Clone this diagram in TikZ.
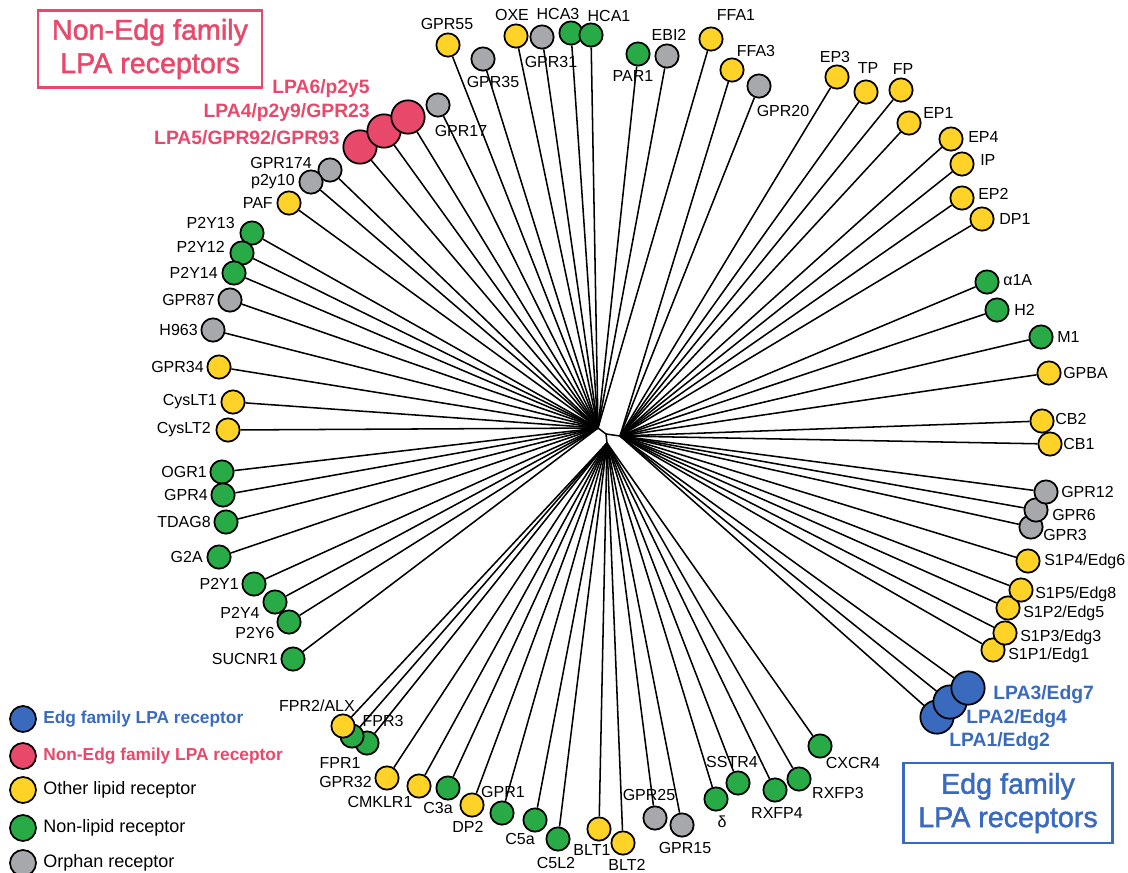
\documentclass[tikz,border=0pt]{standalone}
\usepackage{fontspec}
\setmainfont{Liberation Sans}
\newfontfamily\famfont[FakeBold=1.6]{Liberation Sans}
\definecolor{edgblue}{RGB}{58,106,190}
\definecolor{nonedg}{RGB}{232,72,106}
\definecolor{lipid}{RGB}{255,210,40}
\definecolor{nonlipid}{RGB}{40,170,70}
\definecolor{orphan}{RGB}{166,168,171}
\begin{document}
\begin{tikzpicture}[
        x=0.75pt, y=-0.75pt,
        leaf/.style={draw, circle, line width=1.3pt, minimum size=17.5pt, inner sep=0pt},
        lip/.style={leaf, fill=lipid},
        nlip/.style={leaf, fill=nonlipid},
        orph/.style={leaf, fill=orphan},
        lpaN/.style={leaf, fill=nonedg, minimum size=25pt},
        lpaE/.style={leaf, fill=edgblue, minimum size=25pt},
        lbl/.style={inner sep=0pt, font=\fontsize{12}{14}\selectfont},
        lblN/.style={inner sep=0pt, text=nonedg, font=\fontsize{14.5}{16}\selectfont\bfseries},
        lblE/.style={inner sep=0pt, text=edgblue, font=\fontsize{14.5}{16}\selectfont\bfseries},
        branch/.style={line width=1.15pt},
        famN/.style={draw=nonedg, line width=2.2pt, text=nonedg, align=center, inner sep=6pt,
            font=\famfont\fontsize{21.5}{25}\selectfont},
        famE/.style={draw=edgblue, line width=2.2pt, text=edgblue, align=center, inner sep=6pt,
            font=\famfont\fontsize{21.5}{25}\selectfont},
        key/.style={draw, circle, line width=1.3pt, minimum size=19.5pt, inner sep=0pt},
        keytxt/.style={inner sep=0pt, anchor=west, font=\fontsize{13.5}{16}\selectfont},
    ]
    \useasboundingbox (0,0) rectangle (1128,872);

    % inner hubs of the tree
    \coordinate (hubL) at (598,428);
    \coordinate (hubM) at (606,434);
    \coordinate (hubR) at (620,436);
    \coordinate (hubB) at (607,443);

    % upper left and top
    \node[lip] (gpr55) at (448,45) {};
    \node[orph] (gpr35) at (483,59) {};
    \node[lip] (oxe) at (516,36) {};
    \node[orph] (gpr31) at (542,37) {};
    \node[nlip] (hca3) at (571,33) {};
    \node[nlip] (hca1) at (591,35) {};
    \node[nlip] (par1) at (638,54) {};
    \node[orph] (ebi2) at (667,56) {};
    \node[lip] (ffa1) at (711,39) {};
    \node[orph] (gpr17) at (438,105) {};
    \node[lpaN] (lpa5) at (360,147) {};
    \node[lpaN] (lpa4) at (384,131) {};
    \node[lpaN] (lpa6) at (408,117) {};
    \node[orph] (gpr174) at (330,170) {};
    \node[orph] (p2y10) at (311,182) {};
    \node[lip] (paf) at (289,203) {};
    \node[nlip] (p2y13) at (252,233) {};
    \node[nlip] (p2y12) at (242,253) {};
    \node[nlip] (p2y14) at (234,273) {};
    \node[orph] (gpr87) at (230,300) {};
    \node[orph] (h963) at (213,330) {};
    \node[lip] (gpr34) at (219,367) {};
    \node[lip] (cyslt1) at (233,402) {};
    \node[lip] (cyslt2) at (228,430) {};
    \node[nlip] (ogr1) at (222,472) {};
    \node[nlip] (gpr4) at (223,495) {};
    \node[nlip] (tdag8) at (226,522) {};
    \node[nlip] (g2a) at (219,557) {};
    \node[nlip] (p2y1) at (254,584) {};
    \node[nlip] (p2y4) at (275,602) {};
    \node[nlip] (p2y6) at (289,622) {};
    \node[nlip] (sucnr1) at (293,659) {};

    % bottom
    \node[nlip] (fpr3) at (367,743) {};
    \node[nlip] (fpr1) at (352,736) {};
    \node[lip] (fpr2) at (343,726) {};
    \node[lip] (gpr32) at (387,778) {};
    \node[lip] (cmklr1) at (419,786) {};
    \node[nlip] (c3a) at (448,788) {};
    \node[lip] (dp2) at (472,805) {};
    \node[nlip] (gpr1) at (502,813) {};
    \node[nlip] (c5a) at (535,820) {};
    \node[nlip] (c5l2) at (558,839) {};
    \node[lip] (blt1) at (599,829) {};
    \node[lip] (blt2) at (623,843) {};
    \node[orph] (gpr25) at (655,818) {};
    \node[orph] (gpr15) at (682,825) {};
    \node[nlip] (delta) at (716,799) {};
    \node[nlip] (sstr4) at (738,783) {};
    \node[nlip] (rxfp4) at (775,790) {};
    \node[nlip] (rxfp3) at (799,779) {};
    \node[nlip] (cxcr4) at (820,746) {};

    % upper right and right
    \node[lip] (ffa3) at (732,70) {};
    \node[orph] (gpr20) at (759,86) {};
    \node[lip] (ep3) at (837,77) {};
    \node[lip] (tp) at (866,92) {};
    \node[lip] (fp) at (901,90) {};
    \node[lip] (ep1) at (909,123) {};
    \node[lip] (ep4) at (951,139) {};
    \node[lip] (ip) at (962,164) {};
    \node[lip] (ep2) at (962,198) {};
    \node[lip] (dp1) at (982,219) {};
    \node[nlip] (a1a) at (987,282) {};
    \node[nlip] (h2) at (997,310) {};
    \node[nlip] (m1) at (1041,337) {};
    \node[lip] (gpba) at (1049,373) {};
    \node[lip] (cb2) at (1042,421) {};
    \node[lip] (cb1) at (1050,444) {};
    \node[orph] (gpr3) at (1031,527) {};
    \node[orph] (gpr6) at (1036,510) {};
    \node[orph] (gpr12) at (1046,492) {};
    \node[lip] (s1p4) at (1028,561) {};
    \node[lip] (s1p1) at (993,650) {};
    \node[lip] (s1p3) at (1005,633) {};
    \node[lip] (s1p2) at (1008,608) {};
    \node[lip] (s1p5) at (1021,590) {};
    \node[lpaE] (lpa1) at (937,717) {};
    \node[lpaE] (lpa2) at (950,702) {};
    \node[lpaE] (lpa3) at (968,688) {};

    % branches
    \begin{scope}[on background layer/.try]
    \draw[branch] (hubL) -- (hubM) -- (hubB);
    \draw[branch] (hubM) -- (hubR);
    \foreach \leaf in {gpr55,gpr35,oxe,gpr31,hca3,hca1,par1,ebi2,ffa1,gpr17,lpa5,lpa4,lpa6,
        gpr174,p2y10,paf,p2y13,p2y12,p2y14,gpr87,h963,gpr34,cyslt1,cyslt2,ogr1,gpr4,tdag8,
        g2a,p2y1,p2y4,p2y6,sucnr1}
        \draw[branch] (hubL) -- (\leaf);
    \foreach \leaf in {fpr3,fpr1,fpr2,gpr32,cmklr1,c3a,dp2,gpr1,c5a,c5l2,blt1,blt2,gpr25,
        gpr15,delta,sstr4,rxfp4,rxfp3,cxcr4}
        \draw[branch] (hubB) -- (\leaf);
    \foreach \leaf in {ffa3,gpr20,ep3,tp,fp,ep1,ep4,ip,ep2,dp1,a1a,h2,m1,gpba,cb2,cb1,
        gpr3,gpr6,gpr12,s1p4,s1p1,s1p3,s1p2,s1p5,lpa1,lpa2,lpa3}
        \draw[branch] (hubR) -- (\leaf);
    \end{scope}

    % leaf names
    \node[lbl] (t-gpr55) at (447,24) {GPR55};
    \node[lbl] (t-gpr35) at (493,82) {GPR35};
    \node[lbl] (t-oxe) at (512,15) {OXE};
    \node[lbl] (t-gpr31) at (551,62) {GPR31};
    \node[lbl] (t-hca3) at (558,14) {HCA3};
    \node[lbl] (t-hca1) at (609,16) {HCA1};
    \node[lbl] (t-par1) at (633,76) {PAR1};
    \node[lbl] (t-ebi2) at (669,35) {EBI2};
    \node[lbl] (t-ffa1) at (736,15) {FFA1};
    \node[lbl] (t-ffa3) at (756,51) {FFA3};
    \node[lbl] (t-gpr20) at (783,111) {GPR20};
    \node[lbl] (t-gpr17) at (461,131) {GPR17};
    \node[lblN, anchor=east] (t-lpa6) at (370,88) {LPA6/p2y5};
    \node[lblN, anchor=east] (t-lpa4) at (370,112) {LPA4/p2y9/GPR23};
    \node[lblN, anchor=east] (t-lpa5) at (340,138) {LPA5/GPR92/GPR93};
    \node[lbl, anchor=east] (t-gpr174) at (312,163) {GPR174};
    \node[lbl, anchor=east] (t-p2y10) at (295,182) {p2y10};
    \node[lbl, anchor=east] (t-paf) at (273,203) {PAF};
    \node[lbl, anchor=east] (t-p2y13) at (235,223) {P2Y13};
    \node[lbl, anchor=east] (t-p2y12) at (225,247) {P2Y12};
    \node[lbl, anchor=east] (t-p2y14) at (218,273) {P2Y14};
    \node[lbl, anchor=east] (t-gpr87) at (215,300) {GPR87};
    \node[lbl, anchor=east] (t-h963) at (198,330) {H963};
    \node[lbl, anchor=east] (t-gpr34) at (204,367) {GPR34};
    \node[lbl, anchor=east] (t-cyslt1) at (217,402) {CysLT1};
    \node[lbl, anchor=east] (t-cyslt2) at (211,430) {CysLT2};
    \node[lbl, anchor=east] (t-ogr1) at (207,472) {OGR1};
    \node[lbl, anchor=east] (t-gpr4) at (208,495) {GPR4};
    \node[lbl, anchor=east] (t-tdag8) at (211,522) {TDAG8};
    \node[lbl, anchor=east] (t-g2a) at (203,557) {G2A};
    \node[lbl, anchor=east] (t-p2y1) at (239,584) {P2Y1};
    \node[lbl] (t-p2y4) at (240,613) {P2Y4};
    \node[lbl] (t-p2y6) at (255,633) {P2Y6};
    \node[lbl, anchor=east] (t-sucnr1) at (278,659) {SUCNR1};
    \node[lbl] (t-fpr2) at (317,706) {FPR2/ALX};
    \node[lbl] (t-fpr3) at (383,721) {FPR3};
    \node[lbl] (t-fpr1) at (340,763) {FPR1};
    \node[lbl, anchor=east] (t-gpr32) at (372,782) {GPR32};
    \node[lbl] (t-cmklr1) at (380,802) {CMKLR1};
    \node[lbl] (t-c3a) at (438,808) {C3a};
    \node[lbl] (t-dp2) at (468,827) {DP2};
    \node[lbl] (t-gpr1) at (503,792) {GPR1};
    \node[lbl] (t-c5a) at (520,839) {C5a};
    \node[lbl] (t-c5l2) at (556,863) {C5L2};
    \node[lbl] (t-blt1) at (592,850) {BLT1};
    \node[lbl] (t-blt2) at (627,865) {BLT2};
    \node[lbl] (t-gpr25) at (649,795) {GPR25};
    \node[lbl] (t-gpr15) at (685,848) {GPR15};
    \node[lbl] (t-delta) at (722,822) {δ};
    \node[lbl] (t-sstr4) at (732,762) {SSTR4};
    \node[lbl] (t-rxfp4) at (777,813) {RXFP4};
    \node[lbl] (t-rxfp3) at (838,793) {RXFP3};
    \node[lbl] (t-cxcr4) at (853,763) {CXCR4};
    \node[lbl] (t-ep3) at (835,57) {EP3};
    \node[lbl] (t-tp) at (868,68) {TP};
    \node[lbl] (t-fp) at (903,69) {FP};
    \node[lbl, anchor=west] (t-ep1) at (923,113) {EP1};
    \node[lbl, anchor=west] (t-ep4) at (968,137) {EP4};
    \node[lbl, anchor=west] (t-ip) at (980,160) {IP};
    \node[lbl, anchor=west] (t-ep2) at (978,194) {EP2};
    \node[lbl, anchor=west] (t-dp1) at (999,219) {DP1};
    \node[lbl, anchor=west] (t-a1a) at (1003,280) {α1A};
    \node[lbl, anchor=west] (t-h2) at (1014,310) {H2};
    \node[lbl, anchor=west] (t-m1) at (1057,337) {M1};
    \node[lbl, anchor=west] (t-gpba) at (1063,373) {GPBA};
    \node[lbl, anchor=west] (t-cb2) at (1055,419) {CB2};
    \node[lbl, anchor=west] (t-cb1) at (1063,444) {CB1};
    \node[lbl, anchor=west] (t-gpr12) at (1061,492) {GPR12};
    \node[lbl, anchor=west] (t-gpr6) at (1052,515) {GPR6};
    \node[lbl, anchor=west] (t-gpr3) at (1043,535) {GPR3};
    \node[lbl, anchor=west] (t-s1p4) at (1044,561) {S1P4/Edg6};
    \node[lbl, anchor=west] (t-s1p5) at (1035,594) {S1P5/Edg8};
    \node[lbl, anchor=west] (t-s1p2) at (1023,613) {S1P2/Edg5};
    \node[lbl, anchor=west] (t-s1p3) at (1020,637) {S1P3/Edg3};
    \node[lbl, anchor=west] (t-s1p1) at (1008,655) {S1P1/Edg1};
    \node[lblE, anchor=west] (t-lpa3) at (993,695) {LPA3/Edg7};
    \node[lblE, anchor=west] (t-lpa2) at (966,719) {LPA2/Edg4};
    \node[lblE, anchor=west] (t-lpa1) at (949,742) {LPA1/Edg2};

    % family boxes
    \node[famN, minimum width=168pt, minimum height=58pt] (boxN) at (150,49)
        {Non-Edg family\\LPA receptors};
    \node[famE, minimum width=157pt, minimum height=60pt] (boxE) at (1008,803)
        {Edg family\\LPA receptors};

    % legend
    \node[key, fill=edgblue] (k-edg) at (23,719) {};
    \node[key, fill=nonedg] (k-nonedg) at (23,756) {};
    \node[key, fill=lipid] (k-lipid) at (23,790) {};
    \node[key, fill=nonlipid] (k-nonlipid) at (23,828) {};
    \node[key, fill=orphan] (k-orphan) at (23,863) {};
    \node[keytxt, text=edgblue, font=\fontsize{13}{16}\selectfont\bfseries] (kt-edg) at (43,719)
        {Edg family LPA receptor};
    \node[keytxt, text=nonedg, font=\fontsize{13}{16}\selectfont\bfseries] (kt-nonedg) at (43,756)
        {Non-Edg family LPA receptor};
    \node[keytxt] (kt-lipid) at (43,790) {Other lipid receptor};
    \node[keytxt] (kt-nonlipid) at (43,828) {Non-lipid receptor};
    \node[keytxt] (kt-orphan) at (43,863) {Orphan receptor};
\end{tikzpicture}
\end{document}
